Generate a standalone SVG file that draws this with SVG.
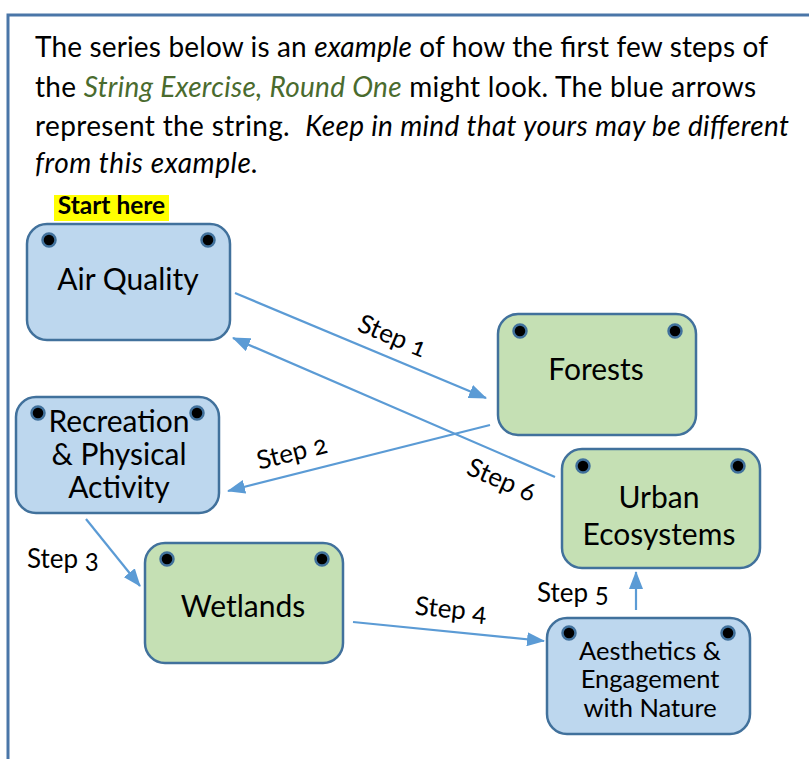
<svg xmlns="http://www.w3.org/2000/svg" width="809" height="759" viewBox="0 0 809 759">
  <style>
    text { font-family: Lato, "Open Sans", "Liberation Sans", sans-serif; fill: #000; }
    .intro { font-size: 28px; }
    .it { font-style: italic; }
    .green { fill: #4a6b2e; }
    .label { font-size: 30px; text-anchor: middle; }
    .small { font-size: 25.5px; text-anchor: middle; }
    .step { font-size: 26px; font-variant-numeric: oldstyle-nums; }
    .blue { fill: #bdd7ee; stroke: #41719c; stroke-width: 2.5; }
    .green-node { fill: #c5e0b4; stroke: #41719c; stroke-width: 2.5; }
    .pin { fill: #000; stroke: #41719c; stroke-width: 2.5; }
    .link { stroke: #5b9bd5; stroke-width: 2.2; fill: none; marker-end: url(#head); }
  </style>
  <defs>
    <marker id="head" markerUnits="userSpaceOnUse" markerWidth="18" markerHeight="14" refX="17" refY="7" orient="auto">
      <path d="M0,0 L18,7 L0,14 Z" fill="#5b9bd5"/>
    </marker>
  </defs>

  <!-- page frame -->
  <rect width="809" height="759" fill="#fff"/>
  <path d="M8,759 V15 H809" fill="none" stroke="#4a76a8" stroke-width="3"/>

  <!-- introduction -->
  <text class="intro" x="35" y="57" textLength="733" lengthAdjust="spacing">The series below is an <tspan class="it">example</tspan> of how the first few steps of</text>
  <text class="intro" x="35" y="97" textLength="721" lengthAdjust="spacing">the <tspan class="it green">String Exercise, Round One</tspan> might look. The blue arrows</text>
  <text class="intro" x="35" y="136" textLength="754" lengthAdjust="spacing" xml:space="preserve">represent the string.  <tspan class="it">Keep in mind that yours may be different</tspan></text>
  <text class="intro it" x="35" y="173" textLength="223" lengthAdjust="spacing">from this example.</text>

  <!-- start marker -->
  <rect x="54" y="195" width="115" height="26" fill="#ffff00"/>
  <text x="111.5" y="214" font-size="24.5" font-weight="bold" text-anchor="middle">Start here</text>

  <!-- connectors -->
  <g id="connectors">
    <line class="link" x1="235" y1="293" x2="486" y2="398"/>
    <line class="link" x1="490" y1="425" x2="228" y2="491"/>
    <line class="link" x1="86" y1="519" x2="140" y2="586"/>
    <line class="link" x1="353" y1="622" x2="544" y2="641"/>
    <line class="link" x1="636" y1="610" x2="636" y2="572"/>
    <line class="link" x1="555" y1="477" x2="233" y2="338"/>
    <text class="step" text-anchor="middle" transform="translate(389,344) rotate(22.7)">Step 1</text>
    <text class="step" text-anchor="middle" transform="translate(294,461) rotate(-14)">Step 2</text>
    <text class="step" x="27" y="568">Step 3</text>
    <text class="step" text-anchor="middle" transform="translate(450,618) rotate(5.7)">Step 4</text>
    <text class="step" x="537" y="602">Step 5</text>
    <text class="step" text-anchor="middle" transform="translate(498,488) rotate(23.3)">Step 6</text>
  </g>

  <!-- nodes -->
  <g id="air-quality">
    <rect class="blue" x="27" y="224" width="203" height="116" rx="20"/>
    <circle class="pin" cx="49" cy="240" r="6.5"/>
    <circle class="pin" cx="208" cy="240" r="6.5"/>
    <text class="label" x="128" y="290" font-size="29">Air Quality</text>
  </g>

  <g id="recreation">
    <rect class="blue" x="16" y="397" width="203" height="116" rx="20"/>
    <circle class="pin" cx="38" cy="413" r="6.5"/>
    <circle class="pin" cx="197" cy="413" r="6.5"/>
    <text class="label" x="119" y="432">Recreation</text>
    <text class="label" x="119" y="465">&amp; Physical</text>
    <text class="label" x="119" y="498">Activity</text>
  </g>

  <g id="forests">
    <rect class="green-node" x="498" y="314" width="198" height="121" rx="20"/>
    <circle class="pin" cx="520" cy="331" r="6.5"/>
    <circle class="pin" cx="675" cy="331" r="6.5"/>
    <text class="label" x="596" y="380">Forests</text>
  </g>

  <g id="urban-ecosystems">
    <rect class="green-node" x="562" y="449" width="198" height="119" rx="20"/>
    <circle class="pin" cx="583" cy="466" r="6.5"/>
    <circle class="pin" cx="738" cy="466" r="6.5"/>
    <text class="label" x="659" y="508">Urban</text>
    <text class="label" x="659" y="545">Ecosystems</text>
  </g>

  <g id="wetlands">
    <rect class="green-node" x="145" y="543" width="198" height="120" rx="20"/>
    <circle class="pin" cx="167" cy="559" r="6.5"/>
    <circle class="pin" cx="322" cy="559" r="6.5"/>
    <text class="label" x="243" y="617">Wetlands</text>
  </g>

  <g id="aesthetics">
    <rect class="blue" x="547" y="618" width="203" height="116" rx="20"/>
    <circle class="pin" cx="569" cy="633" r="6.5"/>
    <circle class="pin" cx="728" cy="633" r="6.5"/>
    <text class="small" x="650" y="660">Aesthetics &amp;</text>
    <text class="small" x="650" y="688">Engagement</text>
    <text class="small" x="650" y="717">with Nature</text>
  </g>
</svg>
